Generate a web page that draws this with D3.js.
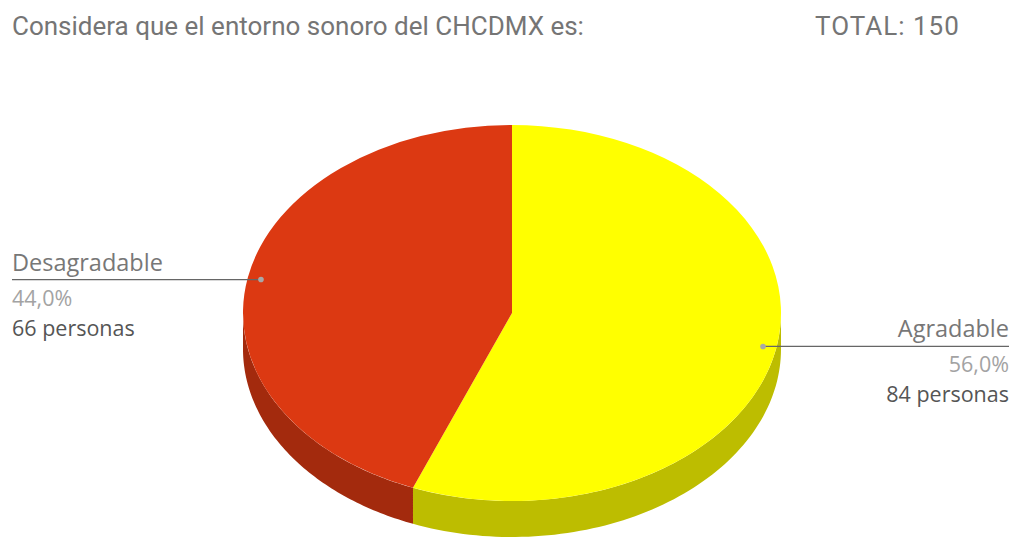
<!DOCTYPE html>
<html>
<head>
<meta charset="utf-8">
<script src="https://cdn.jsdelivr.net/npm/d3@7"></script>
<style>
  html, body { margin: 0; padding: 0; background: #fff; }
  svg { display: block; }
</style>
</head>
<body>
<svg id="chart" width="1017" height="539"></svg>
<script>
// Survey answers: how the soundscape of the CHCDMX is perceived
const categories = ["Agradable", "Desagradable"];
const personas = [84, 66];
const topColors = ["#FFFF00", "#DC3912"];
const sideColors = ["#BDBD00", "#A32A0D"];
const titleText = "Considera que el entorno sonoro del CHCDMX es:";

const W = 1017, H = 539;
const svg = d3.select("#chart");

const total = d3.sum(personas);
const fmtPct = v => d3.format(".1f")(v * 100).replace(".", ",") + "%";

// Header
svg.append("text")
  .attr("x", 12).attr("y", 35)
  .attr("font-family", "Roboto").attr("font-size", 26)
  .attr("fill", "#757575")
  .text(titleText);
svg.append("text")
  .attr("x", 815).attr("y", 35)
  .attr("font-family", "Roboto").attr("font-size", 26)
  .attr("letter-spacing", 1)
  .attr("fill", "#757575")
  .text("TOTAL: " + total);

// 3D pie geometry (tilted disc)
const cx = 512, cy = 313, rx = 269, ry = 188, depth = 36;
const pie = d3.pie().sort(null).value(d => d);
const arcs = pie(personas);

const px = (a, k = 1) => cx + k * rx * Math.sin(a);
const py = (a, k = 1) => cy - k * ry * Math.cos(a);

// Side walls: only the front half (angles between PI/2 and 3PI/2) is visible
const wallLine = d3.line();
const gWalls = svg.append("g");
arcs.forEach((d, i) => {
  const a0 = Math.max(d.startAngle, Math.PI / 2);
  const a1 = Math.min(d.endAngle, 3 * Math.PI / 2);
  if (a1 <= a0) return;
  const n = 80;
  const topPts = d3.range(n + 1).map(j => {
    const a = a0 + (a1 - a0) * j / n;
    return [px(a), py(a)];
  });
  const botPts = topPts.slice().reverse().map(p => [p[0], p[1] + depth]);
  gWalls.append("path")
    .attr("d", wallLine(topPts.concat(botPts)) + "Z")
    .attr("fill", sideColors[i]);
});

// Top faces drawn as a circular pie squashed vertically
const arcGen = d3.arc().innerRadius(0).outerRadius(rx);
const gTop = svg.append("g")
  .attr("transform", `translate(${cx},${cy}) scale(1,${ry / rx})`);
gTop.selectAll("path").data(arcs).join("path")
  .attr("d", arcGen)
  .attr("fill", (d, i) => topColors[i]);

// Leader lines and labels
const labelFont = "'Open Sans'";
arcs.forEach((d, i) => {
  const mid = (d.startAngle + d.endAngle) / 2;
  const dx = px(mid, 0.95), dy = py(mid, 0.95);
  const right = Math.sin(mid) > 0;
  const xEnd = right ? 1009 : 12;
  const anchor = right ? "end" : "start";
  svg.append("line")
    .attr("x1", dx).attr("y1", dy).attr("x2", xEnd).attr("y2", dy)
    .attr("stroke", "#666").attr("stroke-width", 1.2);
  svg.append("circle")
    .attr("cx", dx).attr("cy", dy).attr("r", 2.8)
    .attr("fill", "#a8a8a8");
  const g = svg.append("g").attr("font-family", labelFont).attr("text-anchor", anchor);
  g.append("text").attr("x", xEnd).attr("y", dy - 9)
    .attr("font-size", 23.5).attr("fill", "#777").text(categories[i]);
  g.append("text").attr("x", xEnd).attr("y", dy + 26)
    .attr("font-size", 21.5).attr("fill", "#a3a3a3").text(fmtPct(d.value / total));
  g.append("text").attr("x", xEnd).attr("y", dy + 56)
    .attr("font-size", 21.5).attr("fill", "#555").text(d.value + " personas");
});
</script>
</body>
</html>
